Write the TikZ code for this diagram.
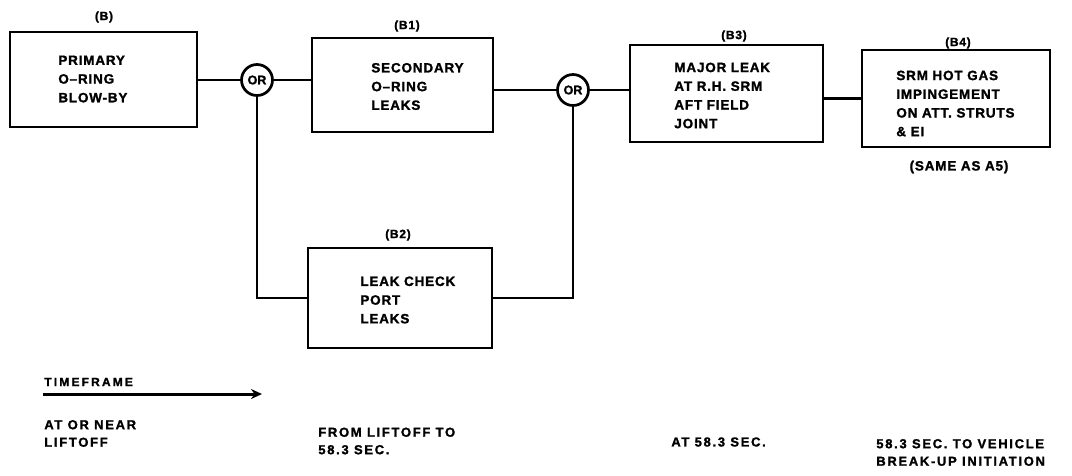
\documentclass[tikz,border=0pt]{standalone}
\usepackage{fontspec}
\usetikzlibrary{arrows.meta}
\newfontfamily\boxf[LetterSpace=6,FakeBold=1.5]{Liberation Sans}
\newfontfamily\notef[LetterSpace=13,FakeBold=1.5]{Liberation Sans}
\newfontfamily\widef[LetterSpace=18,FakeBold=1.5]{Liberation Sans}
\newfontfamily\gatef[FakeBold=1.5]{Liberation Sans}
\begin{document}
\begin{tikzpicture}[x=1pt,y=-1pt, line width=2.7pt,
 box/.style={draw, line width=2.7pt, inner sep=0pt},
 btext/.style={align=left, inner sep=0pt, anchor=west, font=\boxf\bfseries\fontsize{13.5}{18.7}\selectfont},
 gate/.style={draw, circle, line width=2.7pt, minimum size=31pt, inner sep=0pt, font=\gatef\bfseries\fontsize{12.5}{12}\selectfont},
 tag/.style={font=\boxf\bfseries\fontsize{12}{12}\selectfont, inner sep=0pt},
 note/.style={font=\notef\bfseries\fontsize{13}{17.5}\selectfont, align=left, inner sep=0pt, anchor=west}]
\useasboundingbox (0,0) rectangle (1072,475);
% boxes
\node[box, minimum width=187pt, minimum height=95pt] (B) at (103.5,79.5) {};
\node[box, minimum width=181pt, minimum height=94pt] (B1) at (402.5,85) {};
\node[box, minimum width=184pt, minimum height=100pt] (B2) at (400,298) {};
\node[box, minimum width=193pt, minimum height=97pt] (B3) at (726.5,93.5) {};
\node[box, minimum width=188pt, minimum height=97pt] (B4) at (956,98.5) {};
\node[btext] (Bt) at (57,79) {PRIMARY\\O–RING\\BLOW-BY};
\node[btext] (B1t) at (370,86.5) {SECONDARY\\O–RING\\LEAKS};
\node[btext] (B2t) at (359,300) {LEAK CHECK\\PORT\\LEAKS};
\node[btext] (B3t) at (673,95.5) {MAJOR LEAK\\AT R.H. SRM\\AFT FIELD\\JOINT};
\node[btext] (B4t) at (895,103.5) {SRM HOT GAS\\IMPINGEMENT\\ON ATT. STRUTS\\\& EI};
% gates
\node[gate] (OR1) at (257,80) {OR};
\node[gate] (OR2) at (573,90) {OR};
% tags
\node[tag] (tB) at (104,17) {(B)};
\node[tag] (tB1) at (407,26) {(B1)};
\node[tag] (tB2) at (398,235) {(B2)};
\node[tag] (tB3) at (734,36) {(B3)};
\node[tag] (tB4) at (958,43) {(B4)};
\node[btext, anchor=center] (same) at (959,167) {(SAME AS A5)};
% connectors
\draw (OR1.west -| B.east) -- (OR1.west);
\draw (OR1.east) -- (OR1.east -| B1.west);
\draw (OR1.south) |- (B2.west);
\draw (OR2.west -| B1.east) -- (OR2.west);
\draw (B2.east) -| (OR2.south);
\draw (OR2.east) -- (OR2.east -| B3.west);
\draw (B4.west -| B3.east) -- (B4.west);
% timeframe
\node[note, font=\widef\bfseries\fontsize{12}{14}\selectfont] (tf) at (43,382) {TIMEFRAME};
\coordinate (ta) at (43,394);
\coordinate (tb) at (262,394);
\draw[line width=3pt, -{Stealth[length=11pt,width=10pt]}] (ta) -- (tb);
\node[note] (n1) at (43,433.5) {AT OR NEAR\\LIFTOFF};
\node[note] (n2) at (317,441) {FROM LIFTOFF TO\\58.3 SEC.};
\node[note] (n3) at (670,442) {AT 58.3 SEC.};
\node[note] (n4) at (875,452.5) {58.3 SEC. TO VEHICLE\\BREAK-UP INITIATION};
\end{tikzpicture}
\end{document}
